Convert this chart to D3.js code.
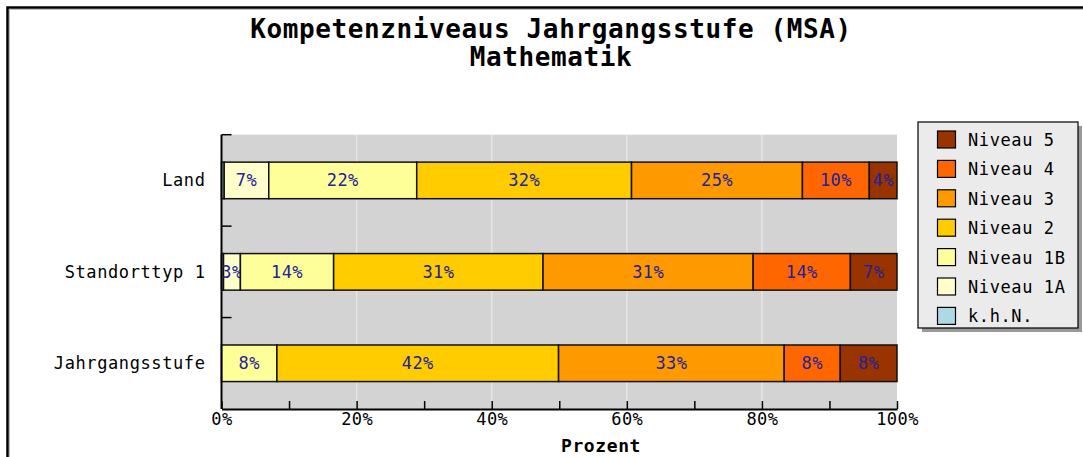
<!DOCTYPE html>
<html>
<head>
<meta charset="utf-8">
<script src="https://cdn.jsdelivr.net/npm/d3@7"></script>
<style>
  body { margin: 0; background: #fff; }
  text { font-family: "DejaVu Sans Mono", monospace; }
</style>
</head>
<body>
<div id="chart"></div>
<script>
// data (percent)
var categories = ["Land", "Standorttyp 1", "Jahrgangsstufe"];
var levels = ["k.h.N.", "Niveau 1A", "Niveau 1B", "Niveau 2", "Niveau 3", "Niveau 4", "Niveau 5"];
var levelColors = ["#add8e6", "#ffffcc", "#ffff99", "#ffcc00", "#ff9900", "#ff6600", "#993300"];
var landValues = [0.4, 6.6, 21.9, 31.8, 25.3, 9.9, 4.1];
var standortValues = [0.3, 2.5, 13.8, 31.0, 31.1, 14.4, 6.9];
var jahrgangValues = [0, 0, 8.2, 41.7, 33.4, 8.3, 8.4];
var xTicks = [0, 20, 40, 60, 80, 100];

var svgWidth = 1083, svgHeight = 457;
var margin = { top: 134.7, right: 186, bottom: 48, left: 221.5 };
var width = svgWidth - margin.left - margin.right;
var height = svgHeight - margin.top - margin.bottom;

var svg = d3.select("#chart").append("svg")
  .attr("width", svgWidth)
  .attr("height", svgHeight);

// outer frame (cropped at right/bottom)
svg.append("rect").attr("x", 7.5).attr("y", 7.5)
  .attr("width", svgWidth + 20).attr("height", svgHeight + 20)
  .attr("fill", "none").attr("stroke", "#000").attr("stroke-width", 2.5);
svg.append("path").attr("d", `M9.5,${svgHeight} V9.5 H${svgWidth}`)
  .attr("fill", "none").attr("stroke", "#bbb").attr("stroke-width", 1);

// title
svg.append("text").attr("x", 551).attr("y", 38)
  .attr("text-anchor", "middle").attr("font-size", 26).attr("font-weight", "bold")
  .style("letter-spacing", "0.6px")
  .text("Kompetenzniveaus Jahrgangsstufe (MSA)");
svg.append("text").attr("x", 551).attr("y", 66)
  .attr("text-anchor", "middle").attr("font-size", 26).attr("font-weight", "bold")
  .style("letter-spacing", "0.6px")
  .text("Mathematik");

var g = svg.append("g").attr("transform", `translate(${margin.left},${margin.top})`);

var x = d3.scaleLinear().domain([0, 100]).range([0, width]);
var y = d3.scaleBand().domain(categories).range([0, height]).paddingInner(0.6).paddingOuter(0.3);
var yOuter = d3.scaleBand().domain(categories).range([0, height]);

g.append("rect").attr("width", width).attr("height", height).attr("fill", "#d3d3d3");

// grid lines
g.selectAll(".grid").data(xTicks.slice(1, -1)).enter().append("line")
  .attr("x1", d => x(d)).attr("x2", d => x(d))
  .attr("y1", 0).attr("y2", height)
  .attr("stroke", "#e6e6e6").attr("stroke-width", 1.5);

// stacked bars
var rows = [landValues, standortValues, jahrgangValues].map(function(vals, i) {
  var r = { cat: categories[i] };
  levels.forEach(function(l, j) { r[l] = vals[j]; });
  return r;
});
var series = d3.stack().keys(levels)(rows);

var layer = g.selectAll(".layer").data(series).enter().append("g")
  .attr("fill", (d, i) => levelColors[i]);

layer.selectAll("rect").data(d => d.filter(p => p[1] - p[0] > 0)).enter().append("rect")
  .attr("x", d => x(d[0]))
  .attr("y", d => y(d.data.cat))
  .attr("width", d => x(d[1]) - x(d[0]))
  .attr("height", y.bandwidth())
  .attr("stroke", "#111").attr("stroke-width", 1.5);

layer.selectAll("text").data(d => d.filter(p => Math.round(p[1] - p[0]) >= 1)).enter().append("text")
  .attr("x", d => (x(d[0]) + x(d[1])) / 2)
  .attr("y", d => y(d.data.cat) + y.bandwidth() / 2 + 6)
  .attr("text-anchor", "middle").attr("font-size", 17)
  .style("letter-spacing", "0.4px")
  .attr("fill", "#222299")
  .text(d => Math.round(d[1] - d[0]) + "%");

// x axis
var xAxis = d3.axisBottom(x).ticks(10).tickSizeInner(-8).tickSizeOuter(0)
  .tickFormat(d => xTicks.indexOf(d) >= 0 ? d + "%" : "");
var xg = g.append("g").attr("transform", `translate(0,${height})`).call(xAxis);
xg.select(".domain").attr("stroke", "#000").attr("stroke-width", 2);
xg.selectAll(".tick line").attr("stroke", "#000").attr("stroke-width", 1.5);
xg.selectAll(".tick text").attr("font-size", 17).attr("dy", 13).attr("fill", "#000")
  .style("letter-spacing", "0.4px");

// y axis
g.append("line").attr("x1", 0).attr("x2", 0).attr("y1", 0).attr("y2", height)
  .attr("stroke", "#000").attr("stroke-width", 2);
g.selectAll(".ytick").data(categories).enter().append("line")
  .attr("x1", 0).attr("x2", 10)
  .attr("y1", d => yOuter(d)).attr("y2", d => yOuter(d))
  .attr("stroke", "#000").attr("stroke-width", 1.5);
g.selectAll(".ylab").data(categories).enter().append("text")
  .attr("x", -16).attr("y", d => y(d) + y.bandwidth() / 2 + 6)
  .attr("text-anchor", "end").attr("font-size", 17)
  .style("letter-spacing", "0.6px")
  .text(d => d);

svg.append("text").attr("x", 601).attr("y", 452)
  .attr("text-anchor", "middle").attr("font-size", 18).attr("font-weight", "bold")
  .style("letter-spacing", "0.6px")
  .text("Prozent");

// legend
var lg = svg.append("g").attr("transform", "translate(918,122)");
lg.append("rect").attr("x", 4).attr("y", 4).attr("width", 160).attr("height", 206).attr("fill", "#999");
lg.append("rect").attr("width", 160).attr("height", 206).attr("fill", "#ebebeb")
  .attr("stroke", "#000").attr("stroke-width", 1.2);
var legendItems = levels.slice().reverse();
var item = lg.selectAll(".item").data(legendItems).enter().append("g")
  .attr("transform", (d, i) => `translate(0,${18 + i * 29.4})`);
item.append("rect").attr("x", 19.5).attr("y", -9).attr("width", 18).attr("height", 17)
  .attr("fill", d => levelColors[levels.indexOf(d)])
  .attr("stroke", "#000").attr("stroke-width", 1.2);
item.append("text").attr("x", 50).attr("y", 6).attr("font-size", 17)
  .style("letter-spacing", "0.6px")
  .text(d => d);
</script>
</body>
</html>
